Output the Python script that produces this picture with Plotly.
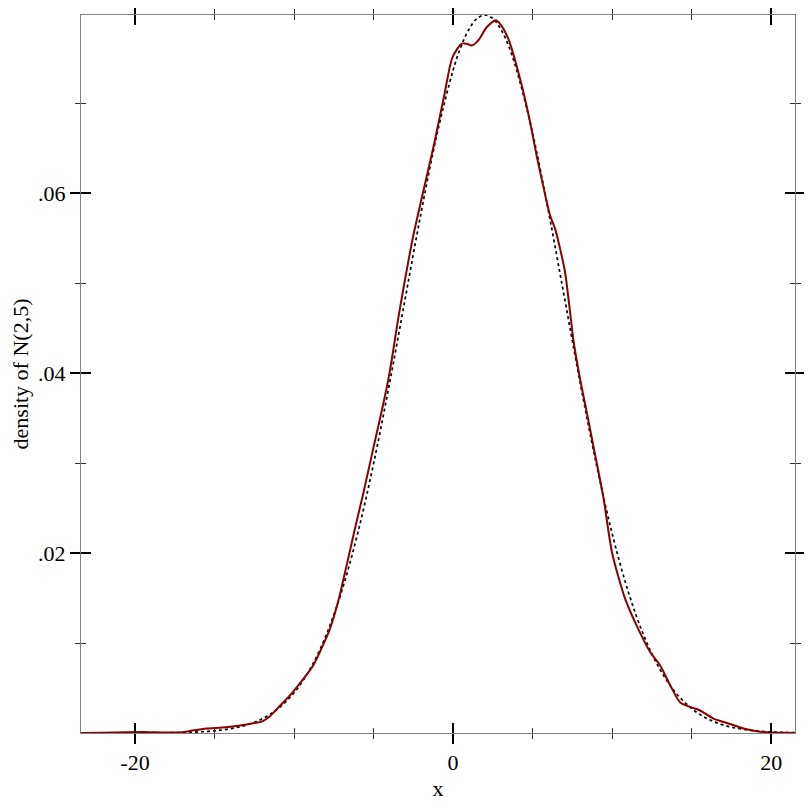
import plotly.graph_objects as go

# Theoretical density N(2,5) (dashed) read at integer x
norm_x = [-23.4, -23, -22, -21, -20, -19, -18, -17, -16, -15, -14, -13, -12, -11, -10, -9, -8, -7, -6, -5,
          -4, -3, -2, -1, 0, 0.5, 1, 1.5, 2, 2.5, 3, 3.5, 4, 5, 6, 7, 8, 9, 10, 11, 12, 13, 14, 15, 16, 17,
          18, 19, 20, 21, 21.5]
norm_y = [0.0000002, 0.0000003, 0.0000008, 0.000002, 0.000005, 0.0000118, 0.0000268, 0.0000584, 0.000122,
          0.000246, 0.000477, 0.000886, 0.001583, 0.002717, 0.004479, 0.007095, 0.010798, 0.015790,
          0.022184, 0.029945, 0.038837, 0.048394, 0.057938, 0.066645, 0.073654, 0.076308, 0.078209,
          0.079392, 0.079788, 0.079392, 0.078209, 0.076308, 0.073654, 0.066645, 0.057938, 0.048394,
          0.038837, 0.029945, 0.022184, 0.015790, 0.010798, 0.007095, 0.004479, 0.002717, 0.001583,
          0.000886, 0.000477, 0.000246, 0.000122, 0.0000584, 0.0000405]

# Kernel density estimate of the sample (red)
kde_x = [-23.4, -22, -20.5, -19.5, -18, -17, -16.3, -15.5, -14.5, -13.5, -12.5, -12.0, -11.5, -10.9,
         -10.2, -9.6, -8.8, -8.2, -7.74, -7.2, -6.7, -6.2, -5.64, -5.0, -4.4, -4.0, -3.4, -2.9, -2.5,
         -1.9, -1.24, -0.61, -0.08, 0.25, 0.55, 0.85, 1.17, 1.6, 2.1, 2.68, 3.0, 3.48, 4.21, 4.84, 5.26,
         5.89, 6.1, 6.42, 6.73, 7.04, 7.36, 7.57, 8.0, 8.41, 8.82, 9.45, 10.0, 10.82, 11.55, 12.39,
         13.02, 13.65, 14.28, 14.9, 15.53, 16.37, 17.42, 18.26, 19.1, 20.1, 21.5]
kde_y = [0.00001, 0.00002, 0.00008, 0.0001, 0.00005, 0.00008, 0.0003, 0.0005, 0.0006, 0.0008, 0.0011,
         0.0013, 0.0019, 0.0030, 0.0043, 0.0056, 0.0075, 0.0097, 0.0116, 0.0148, 0.0186, 0.0225, 0.0267,
         0.0318, 0.0365, 0.0400, 0.0466, 0.0516, 0.0553, 0.0600, 0.0651, 0.0704, 0.0749, 0.0760, 0.0766,
         0.0766, 0.0764, 0.0770, 0.0784, 0.0792, 0.0787, 0.0771, 0.0727, 0.0679, 0.0641, 0.0590, 0.0575,
         0.0560, 0.0538, 0.0512, 0.0467, 0.0436, 0.0392, 0.0356, 0.0319, 0.0262, 0.0200, 0.0149, 0.0119,
         0.0090, 0.0075, 0.0053, 0.0034, 0.0029, 0.0025, 0.0016, 0.0010, 0.0005, 0.0002, 0.00005, 0.00001]

x_tickvals = [-20, 0, 20]
x_ticktext = ["-20", "0", "20"]
y_tickvals = [0.02, 0.04, 0.06]
y_ticktext = [".02", ".04", ".06"]
x_minor = [-15, -10, -5, 5, 10, 15]
y_minor = [0.01, 0.03, 0.05, 0.07]

x_range = [-23.4, 21.5]
y_range = [0.0000003, 0.07979]

FONT = "Liberation Serif"

fig = go.Figure()
fig.add_trace(go.Scatter(x=norm_x, y=norm_y, mode="lines",
                         line=dict(color="black", width=1.7, dash="3px,3px", shape="spline"),
                         showlegend=False, hoverinfo="skip"))
fig.add_trace(go.Scatter(x=kde_x, y=kde_y, mode="lines",
                         line=dict(color="#8b0000", width=2, shape="spline", smoothing=0.7),
                         showlegend=False, hoverinfo="skip"))
# dummy trace so the overlay axes (inside ticks) exist
fig.add_trace(go.Scatter(x=[None], y=[None], xaxis="x2", yaxis="y2", showlegend=False, hoverinfo="skip"))

common_font = dict(family=FONT, size=22, color="black")

# page body has an 8px default margin, so the figure is 804 and shifted accordingly
fig.update_layout(
    width=804, height=804,
    margin=dict(l=73, r=17, t=7, b=79, autoexpand=False),
    paper_bgcolor="white", plot_bgcolor="white",
    font=common_font,
    xaxis=dict(range=x_range, tickmode="array", tickvals=x_tickvals, ticktext=x_ticktext,
               ticks="outside", ticklen=10, tickwidth=1.5, tickcolor="black",
               showline=True, linecolor="#808080", linewidth=1, mirror="ticks",
               showgrid=False, zeroline=False, automargin=False,
               minor=dict(ticks="outside", ticklen=5, tickwidth=1, tickcolor="#333333",
                          tickmode="array", tickvals=x_minor),
               title=dict(text="x", font=common_font, standoff=6),
               tickfont=common_font),
    yaxis=dict(range=y_range, tickmode="array", tickvals=y_tickvals, ticktext=y_ticktext,
               ticks="outside", ticklen=10, tickwidth=1.5, tickcolor="black",
               showline=True, linecolor="#808080", linewidth=1, mirror="ticks",
               showgrid=False, zeroline=False, automargin=False,
               minor=dict(ticks="outside", ticklen=5, tickwidth=1, tickcolor="#333333",
                          tickmode="array", tickvals=y_minor),
               title=dict(text="density of N(2,5)", font=common_font, standoff=4),
               tickfont=common_font),
    xaxis2=dict(overlaying="x", matches="x", range=x_range, tickmode="array", tickvals=x_tickvals,
                ticks="inside", ticklen=10, tickwidth=1.5, tickcolor="black", automargin=False,
                showticklabels=False, showline=False, mirror="ticks", showgrid=False, zeroline=False,
                minor=dict(ticks="inside", ticklen=5, tickwidth=1, tickcolor="#333333",
                           tickmode="array", tickvals=x_minor)),
    yaxis2=dict(overlaying="y", matches="y", range=y_range, tickmode="array", tickvals=y_tickvals,
                ticks="inside", ticklen=10, tickwidth=1.5, tickcolor="black", automargin=False,
                showticklabels=False, showline=False, mirror="ticks", showgrid=False, zeroline=False,
                minor=dict(ticks="inside", ticklen=5, tickwidth=1, tickcolor="#333333",
                           tickmode="array", tickvals=y_minor)),
)

fig.write_html("out.html")
